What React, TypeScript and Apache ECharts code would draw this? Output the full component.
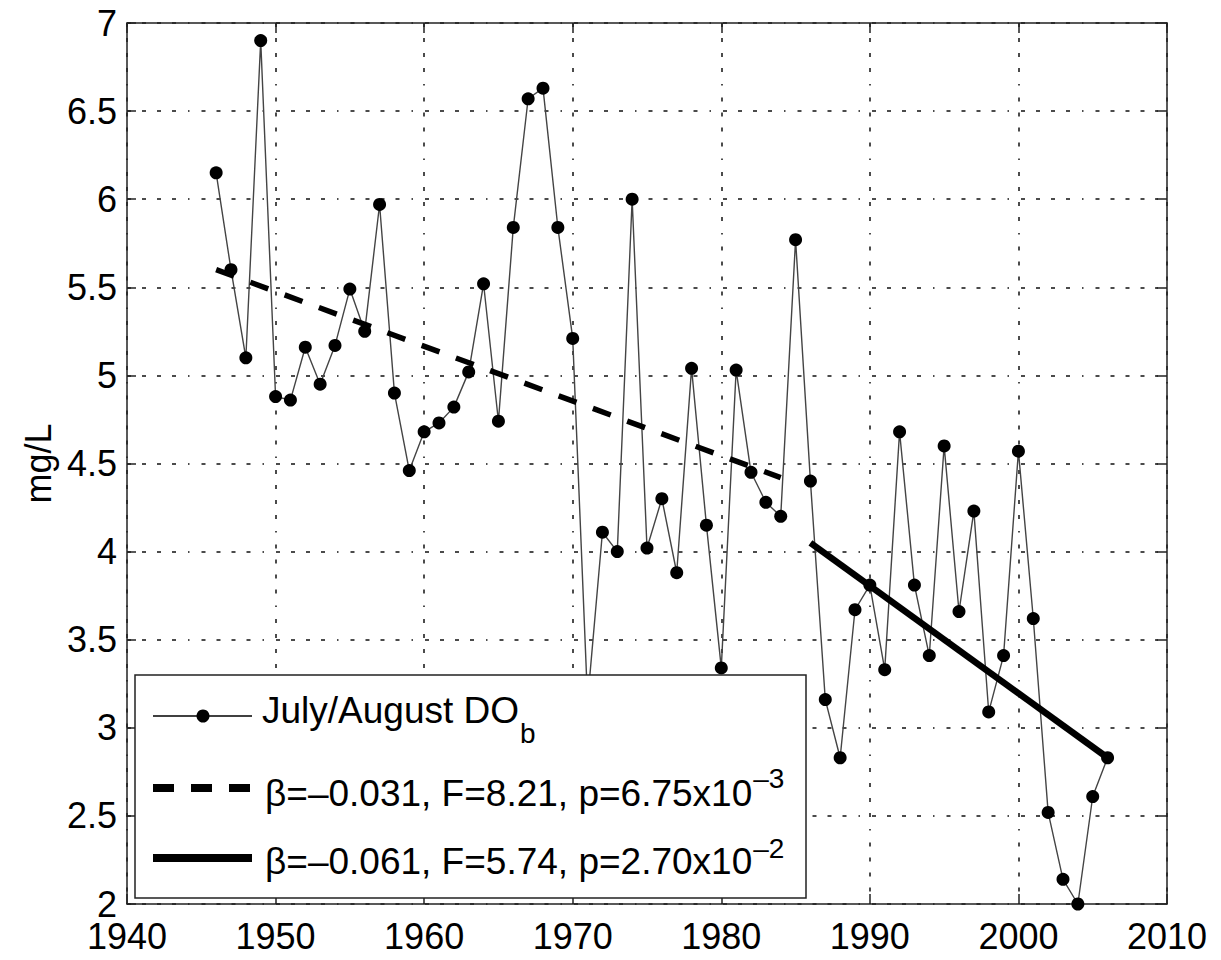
import React, { useEffect, useRef } from "react";
import * as echarts from "echarts";

// ---- data ----
const years = [
  1946, 1947, 1948, 1949, 1950, 1951, 1952, 1953, 1954, 1955,
  1956, 1957, 1958, 1959, 1960, 1961, 1962, 1963, 1964, 1965,
  1966, 1967, 1968, 1969, 1970, 1971, 1972, 1973, 1974, 1975,
  1976, 1977, 1978, 1979, 1980, 1981, 1982, 1983, 1984, 1985,
  1986, 1987, 1988, 1989, 1990, 1991, 1992, 1993, 1994, 1995,
  1996, 1997, 1998, 1999, 2000, 2001, 2002, 2003, 2004, 2005,
  2006,
];
const doValues = [
  6.15, 5.6, 5.1, 6.9, 4.88, 4.86, 5.16, 4.95, 5.17, 5.49,
  5.25, 5.97, 4.9, 4.46, 4.68, 4.73, 4.82, 5.02, 5.52, 4.74,
  5.84, 6.57, 6.63, 5.84, 5.21, 3.15, 4.11, 4.0, 6.0, 4.02,
  4.3, 3.88, 5.04, 4.15, 3.34, 5.03, 4.45, 4.28, 4.2, 5.77,
  4.4, 3.16, 2.83, 3.67, 3.81, 3.33, 4.68, 3.81, 3.41, 4.6,
  3.66, 4.23, 3.09, 3.41, 4.57, 3.62, 2.52, 2.14, 2.0, 2.61,
  2.83,
];
const dashedTrendYears = [1946, 1984];
const dashedTrendValues = [5.6, 4.42];
const solidTrendYears = [1986, 2006];
const solidTrendValues = [4.05, 2.83];

const xMin = 1940;
const xMax = 2010;
const xStep = 10;
const yMin = 2;
const yMax = 7;
const yStep = 0.5;

const yAxisName = "mg/L";
const legendMain = [
  "July/August DO",
  "β=–0.031, F=8.21, p=6.75x10",
  "β=–0.061, F=5.74, p=2.70x10",
];
const legendScript = ["b", "–3", "–2"];

const FONT = '"Liberation Sans", Arial, Helvetica, sans-serif';
const GRID_DASH = [4, 11, 4, 11, 4, 11, 4, 12, 1.5, 12];

function measure(text: string, size: number): number {
  const c = document.createElement("canvas");
  const ctx = c.getContext("2d");
  if (!ctx) return text.length * size * 0.55;
  ctx.font = `${size}px "Liberation Sans"`;
  return ctx.measureText(text).width;
}

export default function App() {
  const ref = useRef<HTMLDivElement | null>(null);

  useEffect(() => {
    if (!ref.current) return;
    const chart = echarts.init(ref.current, undefined, { renderer: "svg" });

    const pairs = (xs: number[], ys: number[]) => xs.map((x, i) => [x, ys[i]]);

    const mainFs = 37;
    const scriptFs = 28;
    const central = 0.3465;
    const entries = [
      { textX: 262, base: 723, scriptBase: 743, lineY: 716 },
      { textX: 265, base: 806.5, scriptBase: 788, lineY: 788 },
      { textX: 265, base: 874.5, scriptBase: 858, lineY: 858 },
    ];

    const legendGraphics: any[] = [
      {
        type: "rect",
        z: 100,
        shape: { x: 135, y: 675, width: 671, height: 223 },
        style: { fill: "#fff", stroke: "#222", lineWidth: 1.5 },
      },
      {
        type: "line",
        z: 101,
        shape: { x1: 153, y1: entries[0].lineY, x2: 252, y2: entries[0].lineY },
        style: { stroke: "#000", lineWidth: 1.5 },
      },
      {
        type: "circle",
        z: 102,
        shape: { cx: 203, cy: entries[0].lineY, r: 6.5 },
        style: { fill: "#000" },
      },
      {
        type: "line",
        z: 101,
        shape: { x1: 153, y1: entries[1].lineY, x2: 252, y2: entries[1].lineY },
        style: { stroke: "#000", lineWidth: 8, lineDash: [21, 17] },
      },
      {
        type: "line",
        z: 101,
        shape: { x1: 153, y1: entries[2].lineY, x2: 252, y2: entries[2].lineY },
        style: { stroke: "#000", lineWidth: 8 },
      },
    ];

    entries.forEach((e, i) => {
      const w = measure(legendMain[i], mainFs);
      legendGraphics.push({
        type: "text",
        z: 102,
        x: e.textX,
        y: e.base - central * mainFs,
        style: {
          text: legendMain[i],
          fontSize: mainFs,
          fontFamily: FONT,
          fill: "#000",
          align: "left",
          verticalAlign: "middle",
        },
      });
      legendGraphics.push({
        type: "text",
        z: 102,
        x: e.textX + w + 1,
        y: e.scriptBase - central * scriptFs,
        style: {
          text: legendScript[i],
          fontSize: scriptFs,
          fontFamily: FONT,
          fill: "#000",
          align: "left",
          verticalAlign: "middle",
        },
      });
    });

    const axisLineStyle = { color: "#222", width: 1.5 };

    const option: any = {
      animation: false,
      backgroundColor: "#fff",
      grid: { left: 127, right: 54, top: 23, bottom: 56, containLabel: false },
      xAxis: [
        {
          type: "value",
          position: "bottom",
          min: xMin,
          max: xMax,
          interval: xStep,
          axisLine: { show: true, onZero: false, lineStyle: axisLineStyle },
          axisTick: { show: true, inside: true, length: 10, lineStyle: axisLineStyle },
          axisLabel: {
            show: true,
            fontSize: 36,
            fontFamily: FONT,
            color: "#000",
            margin: 14,
            formatter: (v: number) => String(v),
          },
          splitLine: {
            show: true,
            lineStyle: { color: "#111", width: 1.5, type: GRID_DASH },
          },
        },
        {
          type: "value",
          position: "top",
          min: xMin,
          max: xMax,
          interval: xStep,
          axisLine: { show: true, onZero: false, lineStyle: axisLineStyle },
          axisTick: { show: true, inside: true, length: 10, lineStyle: axisLineStyle },
          axisLabel: { show: false },
          splitLine: { show: false },
        },
      ],
      yAxis: [
        {
          type: "value",
          position: "left",
          min: yMin,
          max: yMax,
          interval: yStep,
          name: yAxisName,
          nameLocation: "middle",
          nameGap: 70,
          nameRotate: 90,
          nameTextStyle: { fontSize: 36, fontFamily: FONT, color: "#000" },
          axisLine: { show: true, onZero: false, lineStyle: axisLineStyle },
          axisTick: { show: true, inside: true, length: 9, lineStyle: axisLineStyle },
          axisLabel: {
            show: true,
            fontSize: 36,
            fontFamily: FONT,
            color: "#000",
            margin: 10,
          },
          splitLine: {
            show: true,
            lineStyle: { color: "#111", width: 1.5, type: GRID_DASH },
          },
        },
        {
          type: "value",
          position: "right",
          min: yMin,
          max: yMax,
          interval: yStep,
          axisLine: { show: true, onZero: false, lineStyle: axisLineStyle },
          axisTick: { show: true, inside: true, length: 12, lineStyle: axisLineStyle },
          axisLabel: { show: false },
          splitLine: { show: false },
        },
      ],
      series: [
        {
          name: "July/August DOb",
          type: "line",
          xAxisIndex: 0,
          yAxisIndex: 0,
          data: pairs(years, doValues),
          symbol: "circle",
          symbolSize: 13,
          showSymbol: true,
          itemStyle: { color: "#000" },
          lineStyle: { color: "#444", width: 1.4 },
          z: 3,
        },
        {
          name: "trend 1946-1984",
          type: "line",
          xAxisIndex: 0,
          yAxisIndex: 0,
          data: pairs(dashedTrendYears, dashedTrendValues),
          symbol: "none",
          lineStyle: { color: "#000", width: 5.5, type: [19, 17.5] },
          z: 4,
        },
        {
          name: "trend 1986-2006",
          type: "line",
          xAxisIndex: 0,
          yAxisIndex: 0,
          data: pairs(solidTrendYears, solidTrendValues),
          symbol: "none",
          lineStyle: { color: "#000", width: 6.5 },
          z: 4,
        },
      ],
      graphic: legendGraphics,
    };

    chart.setOption(option);
    return () => {
      chart.dispose();
    };
  }, []);

  return (
    <div
      ref={ref}
      style={{ position: "fixed", left: 0, top: 0, width: 1221, height: 960, background: "#fff" }}
    />
  );
}
